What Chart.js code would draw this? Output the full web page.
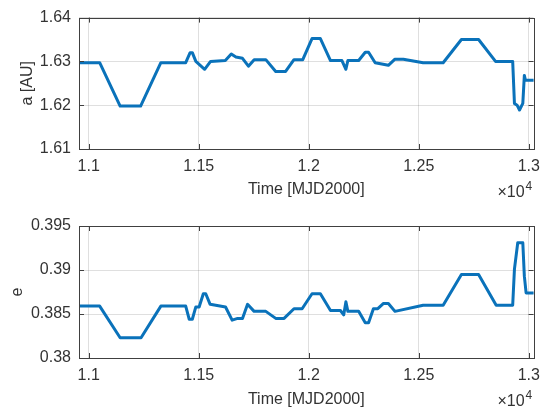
<!DOCTYPE html>
<html>
<head>
<meta charset="utf-8">
<script src="https://cdn.jsdelivr.net/npm/chart.js@4/dist/chart.umd.min.js"></script>
<style>
  body { margin: 0; background: #fff; }
  #wrap { position: relative; width: 548px; height: 412px; background: #fff; }
  canvas { position: absolute; left: 0; }
</style>
</head>
<body>
<div id="wrap">
  <canvas id="aChart" width="548" height="206" style="top:0px"></canvas>
  <canvas id="eChart" width="548" height="206" style="top:206px"></canvas>
</div>
<script>
// semi-major axis history
var timeA = [10956, 11050, 11143, 11236, 11328, 11441, 11461, 11471, 11487, 11527,
  11554, 11621, 11648, 11669, 11699, 11726, 11752, 11805, 11850, 11895,
  11933, 11973, 12015, 12053, 12099, 12151, 12169, 12178, 12227, 12257,
  12272, 12302, 12332, 12362, 12392, 12430, 12520, 12611, 12694, 12772,
  12849, 12927, 12935, 12947, 12958, 12973, 12980, 12985, 13022];
var semiMajor = [1.6297, 1.6297, 1.6198, 1.6198, 1.6297, 1.6297, 1.6320, 1.6320, 1.6300, 1.6282,
  1.6300, 1.6302, 1.6317, 1.6310, 1.6307, 1.6289, 1.6304, 1.6304, 1.6277, 1.6277,
  1.6304, 1.6304, 1.6352, 1.6352, 1.6302, 1.6302, 1.6282, 1.6302, 1.6302, 1.6321,
  1.6321, 1.6297, 1.6294, 1.6291, 1.6305, 1.6305, 1.6297, 1.6297, 1.6350, 1.6350,
  1.6300, 1.6300, 1.6204, 1.6200, 1.6189, 1.6204, 1.6268, 1.6257, 1.6257];

// eccentricity history
var timeE = [10956, 11050, 11143, 11238, 11328, 11441, 11457, 11471, 11487, 11502,
  11521, 11532, 11552, 11622, 11652, 11677, 11699, 11722, 11752, 11805,
  11850, 11888, 11933, 11970, 12015, 12053, 12099, 12144, 12159, 12169,
  12178, 12227, 12257, 12272, 12294, 12314, 12340, 12362, 12392, 12520,
  12611, 12694, 12772, 12852, 12927, 12935, 12950, 12973, 12980, 12988, 13022];
var eccentricity = [0.3859, 0.3859, 0.3823, 0.3823, 0.3859, 0.3859, 0.3844, 0.3844, 0.3858, 0.3858,
  0.3873, 0.3873, 0.3861, 0.3858, 0.3843, 0.3845, 0.3845, 0.3861, 0.3853, 0.3853,
  0.3845, 0.3845, 0.3856, 0.3856, 0.3873, 0.3873, 0.3854, 0.3854, 0.3849, 0.3864,
  0.3853, 0.3853, 0.3840, 0.3840, 0.3856, 0.3856, 0.3862, 0.3862, 0.3853, 0.3860,
  0.3860, 0.3895, 0.3895, 0.3860, 0.3860, 0.3901, 0.3931, 0.3931, 0.3893, 0.3874, 0.3874];

var xTicks = [11000, 11500, 12000, 12500, 13000];
var aTicks = [1.61, 1.62, 1.63, 1.64];
var eTicks = [0.38, 0.385, 0.39, 0.395];

var textColor = '#333333';
var fontFamily = '"Liberation Sans", Arial, Helvetica, sans-serif';

// box around the axes with inward ticks on all four sides, plus the x10^4 multiplier
var matlabFrame = {
  id: 'matlabFrame',
  afterDraw: function(chart) {
    var ctx = chart.ctx;
    var area = chart.chartArea;
    var xs = chart.scales.x, ys = chart.scales.y;
    var len = 5;
    ctx.save();
    ctx.strokeStyle = '#404040';
    ctx.lineWidth = 1;
    ctx.beginPath();
    xs.ticks.forEach(function(t) {
      var px = Math.round(xs.getPixelForValue(t.value)) + 0.5;
      ctx.moveTo(px, area.bottom); ctx.lineTo(px, area.bottom - len);
      ctx.moveTo(px, area.top); ctx.lineTo(px, area.top + len);
    });
    ys.ticks.forEach(function(t) {
      var py = Math.round(ys.getPixelForValue(t.value)) + 0.5;
      ctx.moveTo(area.left, py); ctx.lineTo(area.left + len, py);
      ctx.moveTo(area.right, py); ctx.lineTo(area.right - len, py);
    });
    ctx.stroke();
    ctx.strokeRect(Math.round(area.left) + 0.5, Math.round(area.top) + 0.5,
      Math.round(area.right - area.left), Math.round(area.bottom - area.top));

    ctx.fillStyle = textColor;
    ctx.font = '16px ' + fontFamily;
    ctx.textAlign = 'right';
    ctx.textBaseline = 'middle';
    ctx.fillText('\u00d710', area.right - 9, area.bottom + 44);
    ctx.font = '12px ' + fontFamily;
    ctx.textAlign = 'left';
    ctx.fillText('4', area.right - 8, area.bottom + 38);
    ctx.restore();
  }
};

function makePanel(id, times, values, label, yMin, yMax, yTickList, box) {
  var points = times.map(function(t, i) { return { x: t, y: values[i] }; });
  return new Chart(document.getElementById(id), {
    type: 'line',
    data: {
      datasets: [{
        data: points,
        borderColor: '#0a72ba',
        borderWidth: 3,
        borderJoinStyle: 'round',
        borderCapStyle: 'round',
        pointRadius: 0,
        tension: 0,
        fill: false
      }]
    },
    options: {
      responsive: false,
      animation: false,
      devicePixelRatio: 1,
      layout: { padding: { top: box.top, right: 12, bottom: 0, left: 0 } },
      plugins: { legend: { display: false }, tooltip: { enabled: false } },
      scales: {
        x: {
          type: 'linear',
          min: 10956,
          max: 13022,
          afterBuildTicks: function(scale) {
            scale.ticks = xTicks.map(function(v) { return { value: v }; });
          },
          afterFit: function(scale) { scale.height = box.xHeight; },
          border: { display: false },
          grid: { color: 'rgba(38,38,38,0.15)', lineWidth: 1, drawTicks: false },
          ticks: {
            padding: 8,
            color: textColor,
            font: { family: fontFamily, size: 16 },
            maxRotation: 0,
            callback: function(v) { return String(+(v / 10000).toFixed(2)); }
          },
          title: {
            display: true,
            text: 'Time [MJD2000]',
            color: textColor,
            font: { family: fontFamily, size: 16 },
            padding: { top: 0, bottom: box.xTitlePad }
          }
        },
        y: {
          min: yMin,
          max: yMax,
          afterBuildTicks: function(scale) {
            scale.ticks = yTickList.map(function(v) { return { value: v }; });
          },
          afterFit: function(scale) { scale.width = 79; },
          border: { display: false },
          grid: { color: 'rgba(38,38,38,0.15)', lineWidth: 1, drawTicks: false },
          ticks: {
            padding: 8,
            color: textColor,
            font: { family: fontFamily, size: 16 },
            callback: function(v) { return String(+v.toFixed(3)); }
          },
          title: {
            display: true,
            text: label,
            color: textColor,
            font: { family: fontFamily, size: 16 },
            padding: { top: box.yTitlePad, bottom: 0 }
          }
        }
      }
    },
    plugins: [matlabFrame]
  });
}

makePanel('aChart', timeA, semiMajor, 'a [AU]', 1.61, 1.64, aTicks,
  { top: 16, xHeight: 57, xTitlePad: 6.4, yTitlePad: 18 });
makePanel('eChart', timeE, eccentricity, 'e', 0.38, 0.395, eTicks,
  { top: 20, xHeight: 54, xTitlePad: 2.9, yTitlePad: 8 });
</script>
</body>
</html>
